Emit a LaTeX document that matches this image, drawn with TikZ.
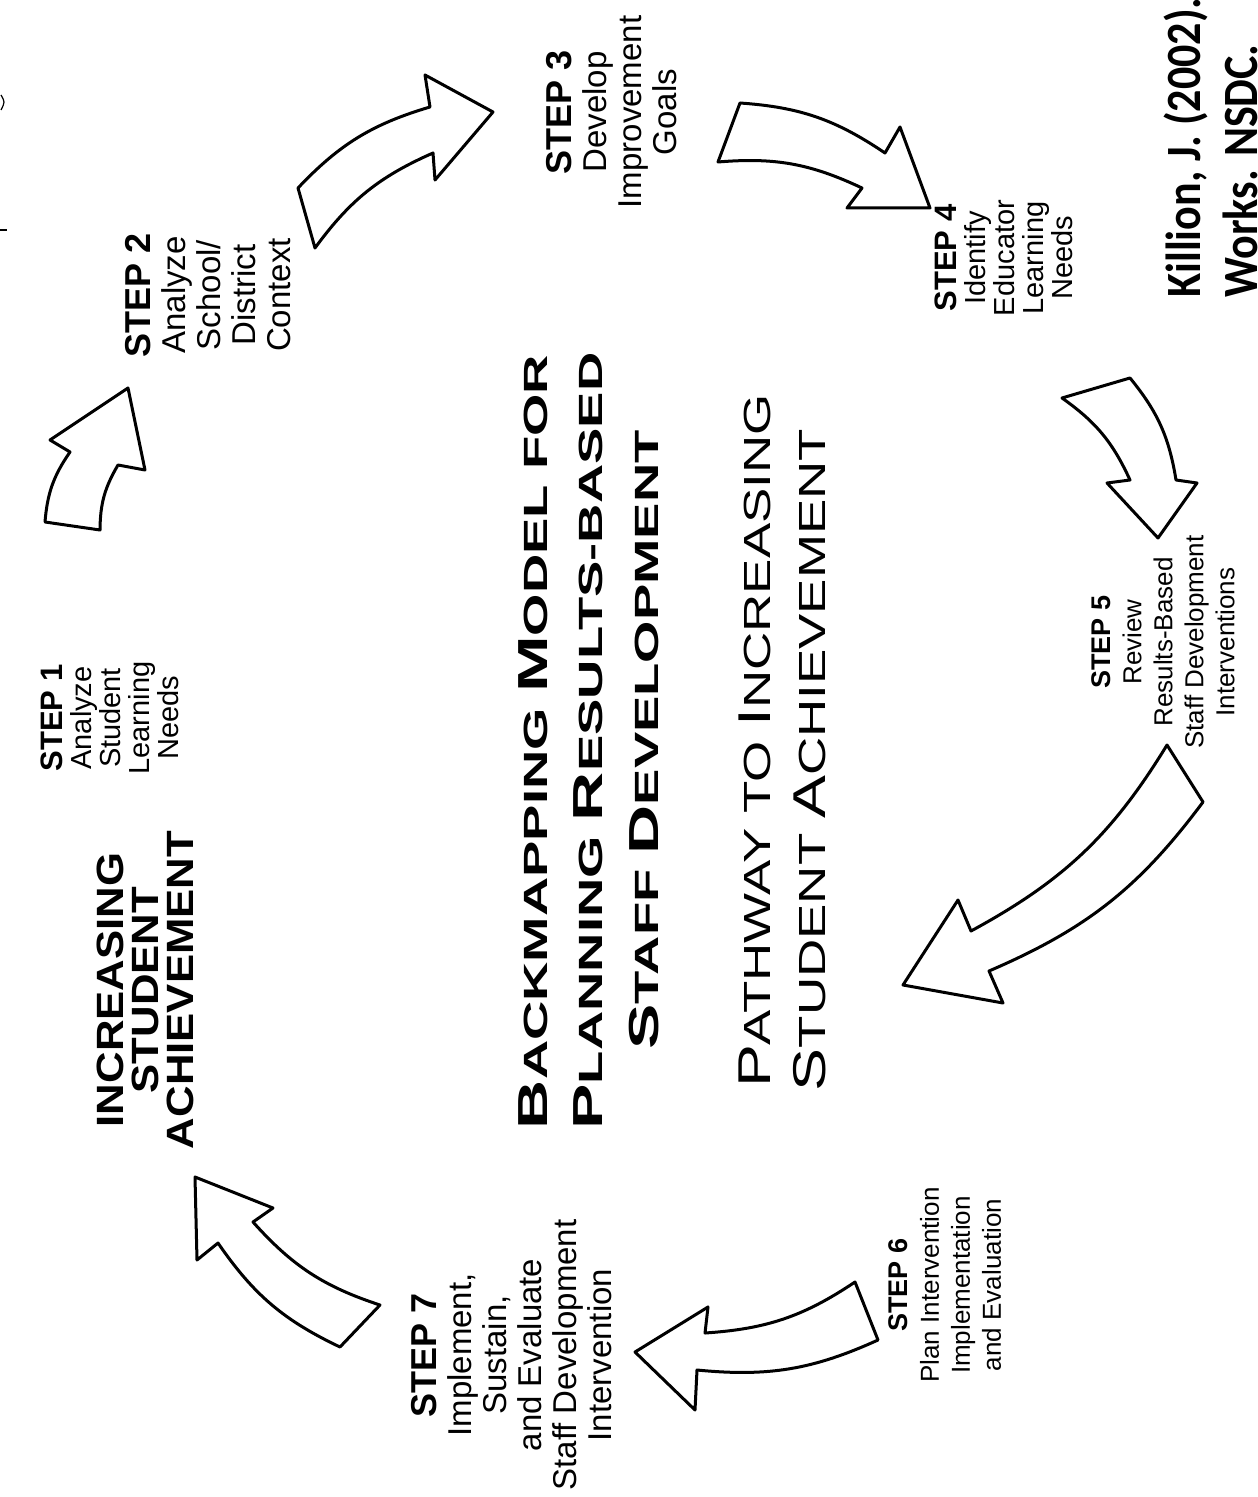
\documentclass[tikz,border=0pt]{standalone}
\usepackage{fontspec}
\usepackage{graphicx}
\setmainfont{Liberation Sans}
\newfontfamily\citefont{Carlito}
\newcommand{\tLg}{\fontsize{21}{25}\selectfont}
\newcommand{\tSm}{\fontsize{16.8}{25}\selectfont}
\newcommand{\sLg}{\fontsize{23}{25}\selectfont}
\newcommand{\sSm}{\fontsize{18.9}{25}\selectfont}
\tikzset{
  bigarrow/.style={draw=black, line width=1.5pt, line join=round, fill=white},
  stepbig/.style={rotate=90, align=center, inner sep=0pt, font=\fontsize{16.5}{17.5}\selectfont},
  stepmid/.style={rotate=90, align=center, inner sep=0pt, font=\fontsize{14.5}{14.5}\selectfont},
  stepsmall/.style={rotate=90, align=center, inner sep=0pt, font=\fontsize{13}{15.5}\selectfont},
  titleline/.style={rotate=90, anchor=base, inner sep=0pt, font=\bfseries},
  subline/.style={rotate=90, anchor=base, inner sep=0pt},
  citeline/.style={rotate=90, anchor=base west, inner sep=0pt, font=\citefont\bfseries\fontsize{22}{22}\selectfont},
}
\begin{document}
\begin{tikzpicture}[x=0.5pt,y=-0.5pt]
\useasboundingbox (0,0) rectangle (1257,1497);
\fill[white] (0,0) rectangle (1257,1497);

% scan marks
\draw[line width=0.6pt] (1,95) .. controls (5,102) .. (1,110);
\draw[line width=0.6pt] (0,230) -- (7,230);

% step texts
\node[stepmid] (s1) at (110,718) {{\bfseries\fontsize{15.5}{14.5}\selectfont STEP 1}\\Analyze\\Student\\Learning\\Needs};
\node[stepbig] (s2) at (208,295) {{\bfseries\fontsize{18}{17.5}\selectfont STEP 2}\\Analyze\\School/\\District\\Context};
\node[stepbig] (s3) at (612,112) {{\bfseries\fontsize{18}{17.5}\selectfont STEP 3}\\Develop\\Improvement\\Goals};
\node[stepmid] (s4) at (1004,258) {{\bfseries\fontsize{15.5}{14.5}\selectfont STEP 4}\\Identify\\Educator\\Learning\\Needs};
\node[stepsmall] (s5) at (1163,642) {{\bfseries\fontsize{13.5}{15.5}\selectfont STEP 5}\\Review\\Results-Based\\Staff Development\\Interventions};
\node[stepsmall] (s6) at (945,1285) {{\bfseries\fontsize{13.5}{15.5}\selectfont STEP 6}\\Plan Intervention\\Implementation\\and Evaluation};
\node[stepbig] (s7) at (512,1355) {{\bfseries\fontsize{18}{17.5}\selectfont STEP 7}\\Implement,\\Sustain,\\and Evaluate\\Staff Development\\Intervention};
\node[rotate=90, align=center, inner sep=0pt, font=\bfseries\fontsize{19}{17.5}\selectfont] (inc) at (145,990)
  {\scalebox{1.15}[1]{INCREASING}\\\scalebox{1.15}[1]{STUDENT}\\\scalebox{1.15}[1]{ACHIEVEMENT}};

% title
\node[titleline] (t1) at (547,742) {\scalebox{1.62}[1]{\tLg B\tSm ACKMAPPING \tLg M\tSm ODEL FOR}};
\node[titleline] (t2) at (602,741) {\scalebox{1.62}[1]{\tLg P\tSm LANNING \tLg R\tSm ESULTS-BASED}};
\node[titleline] (t3) at (658,740) {\scalebox{1.62}[1]{\tLg S\tSm TAFF \tLg D\tSm EVELOPMENT}};
\node[subline] (p1) at (770,741) {\scalebox{1.4}[1]{\sLg P\sSm ATHWAY TO \sLg I\sSm NCREASING}};
\node[subline] (p2) at (825,760) {\scalebox{1.4}[1]{\sLg S\sSm TUDENT \sLg A\sSm CHIEVEMENT}};

% citation
\node[citeline] (c1) at (1200,298) {\scalebox{1}[1.12]{Killion, J. (2002).}};
\node[citeline] (c2) at (1257,298) {\scalebox{1}[1.12]{Works. NSDC.}};

% arrows
\draw[bigarrow] (45,522) to[bend left=15] (70,452) -- (50,440) -- (128,388) -- (145,470) -- (118,465) to[bend right=15] (100,530) -- cycle;
\draw[bigarrow] (298,188) to[bend left=15] (430,107) -- (425,75) -- (493,112) -- (435,180) -- (433,153) to[bend right=15] (315,248) -- cycle;
\draw[bigarrow] (740,103) to[bend left=15] (885,153) -- (900,127) -- (930,208) -- (847,208) -- (862,188) to[bend right=15] (718,162) -- cycle;
\draw[bigarrow] (1130,378) to[bend left=15] (1176,480) -- (1197,483) -- (1158,538) -- (1107,483) -- (1130,480) to[bend right=15] (1062,398) -- cycle;
\draw[bigarrow] (1203,802) to[bend left=15] (989,971) -- (1003,1003) -- (903,985) -- (958,900) -- (971,931) to[bend right=15] (1167,745) -- cycle;
\draw[bigarrow] (878,1340) to[bend left=15] (697,1370) -- (695,1410) -- (635,1352) -- (708,1307) -- (705,1333) to[bend right=15] (855,1282) -- cycle;
\draw[bigarrow] (340,1347) to[bend left=15] (218,1243) -- (197,1260) -- (195,1177) -- (273,1208) -- (253,1222) to[bend right=15] (380,1305) -- cycle;
\end{tikzpicture}
\end{document}
